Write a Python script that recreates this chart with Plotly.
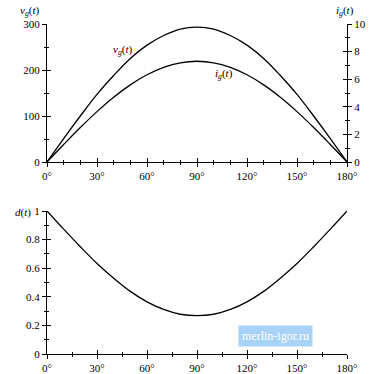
import plotly.graph_objects as go

angle_deg = [0, 10, 20, 30, 40, 50, 60, 70, 80, 90, 100, 110, 120, 130, 140, 150, 160, 170, 180]
vg_volts = [0, 51, 100, 147, 188, 225, 254, 275, 289, 293, 289, 275, 254, 225, 188, 147, 100, 51, 0]
ig_amps = [0, 1.27, 2.50, 3.65, 4.69, 5.59, 6.32, 6.86, 7.19, 7.30, 7.19, 6.86, 6.32, 5.59, 4.69, 3.65, 2.50, 1.27, 0]
duty = [1, 0.873, 0.75, 0.633, 0.53, 0.438, 0.365, 0.312, 0.278, 0.268, 0.278, 0.312, 0.365, 0.438, 0.53, 0.633, 0.75, 0.873, 1]

x_tickvals = [0, 30, 60, 90, 120, 150, 180]
x_ticktext = ["0°", "30°", "60°", "90°", "120°", "150°", "180°"]
vg_tickvals = [0, 100, 200, 300]
ig_tickvals = [0, 2, 4, 6, 8, 10]
d_tickvals = [0, 0.2, 0.4, 0.6, 0.8, 1]
d_ticktext = ["0", "0.2", "0.4", "0.6", "0.8", "1"]

FONT = "Liberation Serif"
W, H = 369, 374
ML, MR, MT, MB = 47, 22, 24, 20
PW, PH = W - ML - MR, H - MT - MB
XD = [0, 1]
TOPD = [1 - (162 - MT) / PH, 1]
BOTD = [0, (H - MB - 211) / PH]


def px(xp):
    return (xp - ML) / PW


def py(yp):
    return (H - MB - yp) / PH


line = dict(color="black", width=1.3, shape="spline")
fig = go.Figure()
fig.add_trace(go.Scatter(x=angle_deg, y=vg_volts, mode="lines", line=line, xaxis="x", yaxis="y"))
fig.add_trace(go.Scatter(x=angle_deg, y=ig_amps, mode="lines", line=line, xaxis="x", yaxis="y2"))
fig.add_trace(go.Scatter(x=angle_deg, y=duty, mode="lines", line=line, xaxis="x2", yaxis="y3"))
# invisible traces for overlay axes (inside half of crossing ticks)
fig.add_trace(go.Scatter(x=[None], y=[None], xaxis="x3", yaxis="y4", showlegend=False))
fig.add_trace(go.Scatter(x=[None], y=[None], xaxis="x3", yaxis="y5", showlegend=False))
fig.add_trace(go.Scatter(x=[None], y=[None], xaxis="x4", yaxis="y6", showlegend=False))

tickfont = dict(family=FONT, size=11, color="black")
common = dict(showgrid=False, zeroline=False, linecolor="black", linewidth=1, tickcolor="black",
              tickwidth=1, tickfont=tickfont, automargin=False)


def xax(anchor, dtick_minor, inside=False, overlay=None):
    d = dict(common, domain=XD, anchor=anchor, range=[0, 180], tickvals=x_tickvals,
             ticktext=x_ticktext, ticks="inside" if inside else "outside", ticklen=4,
             minor=dict(dtick=dtick_minor, tick0=0, ticks="inside" if inside else "outside",
                        ticklen=2, tickcolor="black", tickwidth=1))
    if inside:
        d.update(showticklabels=False, showline=False, overlaying=overlay)
    else:
        d.update(showline=True)
    return d


def yax(domain, anchor, rng, tickvals, ticktext, minor_dtick, side="left", inside=False, overlay=None):
    d = dict(common, domain=domain, anchor=anchor, range=rng, tickvals=tickvals,
             ticks="inside" if inside else "outside", ticklen=4, side=side,
             minor=dict(dtick=minor_dtick, tick0=0, ticks="inside" if inside else "outside",
                        ticklen=2, tickcolor="black", tickwidth=1))
    if ticktext is not None:
        d["ticktext"] = ticktext
    if inside:
        d.update(showticklabels=False, showline=False, overlaying=overlay)
    else:
        d.update(showline=True)
    return d


fig.update_layout(
    width=W, height=H,
    margin=dict(l=ML, r=MR, t=MT, b=MB),
    paper_bgcolor="white", plot_bgcolor="rgba(0,0,0,0)",
    showlegend=False,
    font=dict(family=FONT, size=11, color="black"),
    xaxis=xax("y", 10),
    xaxis2=xax("y3", 15),
    xaxis3=xax("y4", 10, inside=True, overlay="x"),
    xaxis4=xax("y6", 15, inside=True, overlay="x2"),
    yaxis=yax(TOPD, "x", [0, 300], vg_tickvals, None, 50),
    yaxis2=dict(yax(TOPD, "x", [0, 10], ig_tickvals, None, 1, side="right"), overlaying="y"),
    yaxis3=yax(BOTD, "x2", [0, 1], d_tickvals, d_ticktext, 0.1),
    yaxis4=yax(TOPD, "x3", [0, 300], vg_tickvals, None, 50, inside=True, overlay="y"),
    yaxis5=yax(TOPD, "x3", [0, 10], ig_tickvals, None, 1, side="right", inside=True, overlay="y"),
    yaxis6=yax(BOTD, "x4", [0, 1], d_tickvals, d_ticktext, 0.1, inside=True, overlay="y3"),
)

ann_font = dict(family=FONT, size=11, color="black")
fig.add_annotation(x=px(18), y=py(2), xref="paper", yref="paper", showarrow=False, font=ann_font,
                   yanchor="top", text="<i>v</i><sub><i>g</i></sub>(<i>t</i>)")
fig.add_annotation(x=px(356), y=py(2), xref="paper", yref="paper", showarrow=False, font=ann_font,
                   yanchor="top", text="<i>i</i><sub><i>g</i></sub>(<i>t</i>)")
fig.add_annotation(x=px(13), y=py(212), xref="paper", yref="paper", showarrow=False, font=ann_font,
                   text="<i>d</i>(<i>t</i>)")
fig.add_annotation(x=45, y=243, xref="x", yref="y", showarrow=False, font=ann_font,
                   text="<i>v</i><sub><i>g</i></sub>(<i>t</i>)")
fig.add_annotation(x=106, y=191, xref="x", yref="y", showarrow=False, font=ann_font,
                   text="<i>i</i><sub><i>g</i></sub>(<i>t</i>)")
fig.add_annotation(x=px(313), y=py(347), xref="paper", yref="paper", showarrow=False,
                   font=dict(family=FONT, size=12, color="white"), text="merlin-igor.ru",
                   bgcolor="rgba(140,195,245,0.75)", borderpad=3)

fig.write_html("out.html", config={"displayModeBar": False},
               post_script="document.body.style.margin='0';document.body.style.overflow='hidden';")
